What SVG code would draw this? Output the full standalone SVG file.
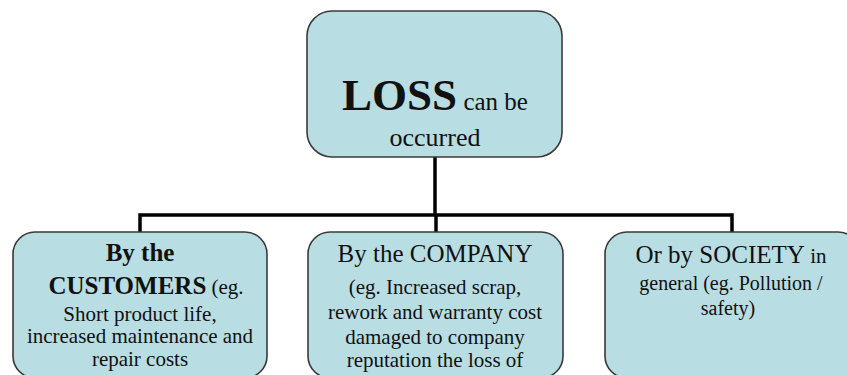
<svg xmlns="http://www.w3.org/2000/svg" width="847" height="375" viewBox="0 0 847 375">
<style>
.box{fill:#b8dde2;stroke:#3a3a3a;stroke-width:1.6}
text{font-family:'Liberation Serif',serif;fill:#111;text-anchor:middle}
.b{font-weight:bold}
.wire{stroke:#000;stroke-width:3.5;fill:none}
</style>
<rect width="847" height="375" fill="#ffffff"/>
<g id="connectors">
<path class="wire" d="M435,157 V215"/>
<path class="wire" d="M140,232 V215 H732 V232"/>
<path class="wire" d="M436,215 V232"/>
</g>
<g id="node-loss" font-family="Liberation Serif, serif">
<rect class="box" x="307" y="11" width="255" height="146" rx="25"/>
<text x="435" y="110"><tspan class="b" font-size="45">LOSS</tspan><tspan font-size="25"> can be</tspan></text>
<text x="435" y="146" font-size="26">occurred</text>
</g>
<g id="node-customers" font-family="Liberation Serif, serif">
<rect class="box" x="13" y="232" width="254" height="146" rx="22"/>
<text class="b" x="140" y="261" font-size="25">By the</text>
<text x="146" y="294"><tspan class="b" font-size="25">CUSTOMERS</tspan><tspan font-size="21"> (eg.</tspan></text>
<text x="140" y="321" font-size="21">Short product life,</text>
<text x="140" y="343" font-size="21">increased maintenance and</text>
<text x="140" y="366" font-size="21">repair costs</text>
</g>
<g id="node-company" font-family="Liberation Serif, serif">
<rect class="box" x="308" y="232" width="255" height="146" rx="22"/>
<text x="435" y="262" font-size="25">By the COMPANY</text>
<text x="435" y="294" font-size="21">(eg. Increased scrap,</text>
<text x="435" y="319" font-size="21">rework and warranty cost</text>
<text x="435" y="344" font-size="21">damaged to company</text>
<text x="435" y="367" font-size="21">reputation the loss of</text>
</g>
<g id="node-society" font-family="Liberation Serif, serif">
<rect class="box" x="605" y="232" width="255" height="146" rx="22"/>
<text x="731" y="263"><tspan font-size="25">Or by SOCIETY</tspan><tspan font-size="21"> in</tspan></text>
<text x="731" y="290" font-size="20">general (eg. Pollution /</text>
<text x="728" y="315" font-size="20">safety)</text>
</g>
</svg>
